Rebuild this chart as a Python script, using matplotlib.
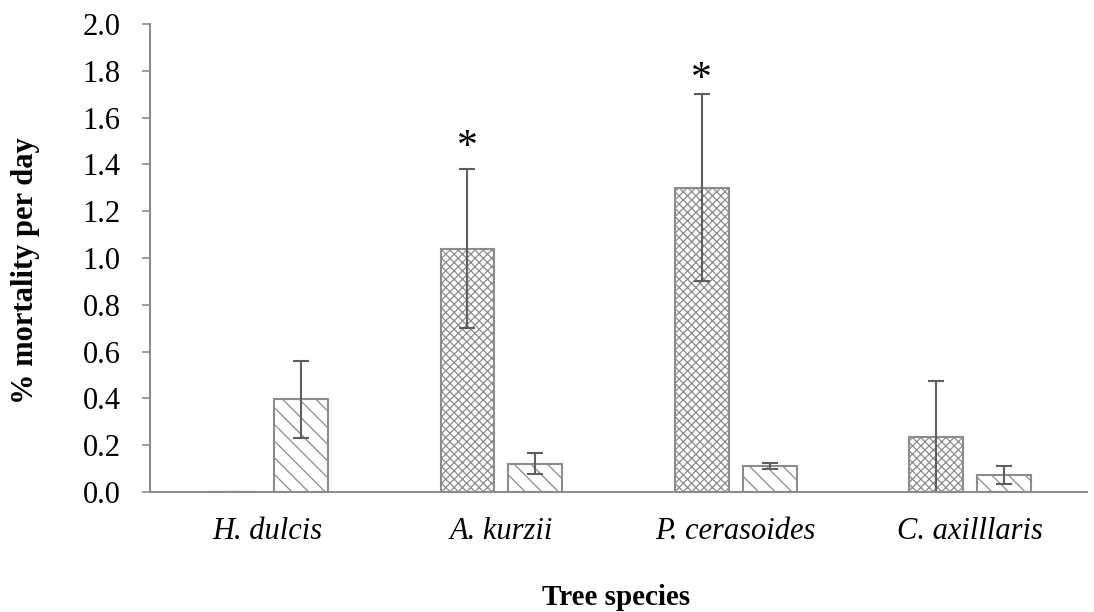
import numpy as np
import matplotlib
matplotlib.use("Agg")
import matplotlib.pyplot as plt

plt.rcParams['font.family'] = ['Liberation Serif', 'DejaVu Serif']
plt.rcParams['hatch.linewidth'] = 0.9

species = ["H. dulcis", "A. kurzii", "P. cerasoides", "C. axilllaris"]
series_a = [0.0, 1.04, 1.30, 0.236]      # crosshatched bars
series_a_err = [0.0, 0.34, 0.40, 0.238]
series_b = [0.396, 0.12, 0.11, 0.073]    # diagonal hatched bars
series_b_err = [0.165, 0.045, 0.013, 0.037]
star_idx = [1, 2]
star_pos = [1.47, 1.76]
yticks = [0.0, 0.2, 0.4, 0.6, 0.8, 1.0, 1.2, 1.4, 1.6, 1.8, 2.0]

fig = plt.figure(figsize=(10.94, 6.12), dpi=100)
ax = fig.add_axes([0.137, 0.196, 0.857, 0.765])

x = np.arange(len(species))
w = 0.23
off = 0.145
edge = '#8c8c8c'
errc = '#5f5f5f'

ax.bar(x - off, series_a, w, color='white', edgecolor=edge, hatch='xxxx', linewidth=1.5)
ax.bar(x + off, series_b, w, color='white', edgecolor=edge, hatch='\\\\', linewidth=1.5)
ax.errorbar(x - off, series_a, yerr=series_a_err, fmt='none', ecolor=errc,
            elinewidth=1.5, capsize=6, capthick=1.5)
ax.errorbar(x + off, series_b, yerr=series_b_err, fmt='none', ecolor=errc,
            elinewidth=1.5, capsize=6, capthick=1.5)

for i, yy in zip(star_idx, star_pos):
    ax.text(x[i] - off, yy, "*", ha='center', va='center', fontsize=30)

ax.set_xlim(-0.5, 3.5)
ax.set_ylim(0, 2.0)
ax.set_yticks(yticks)
ax.set_yticklabels(["%.1f" % t for t in yticks], fontsize=22)
ax.set_xticks(x)
ax.set_xticklabels(species, fontsize=22, style='italic')
ax.tick_params(axis='x', length=0, pad=18)
ax.tick_params(axis='y', length=6, width=1.2, color=edge, pad=15)

for s in ['top', 'right']:
    ax.spines[s].set_visible(False)
for s in ['left', 'bottom']:
    ax.spines[s].set_color(edge)
    ax.spines[s].set_linewidth(1.5)

ax.set_ylabel("% mortality per day", fontsize=22, fontweight='bold')
ax.yaxis.set_label_coords(-0.117, 0.472)
fig.text(0.563, 0.012, "Tree species", ha='center', fontsize=21, fontweight='bold')

fig.savefig("out.png", dpi=100)
